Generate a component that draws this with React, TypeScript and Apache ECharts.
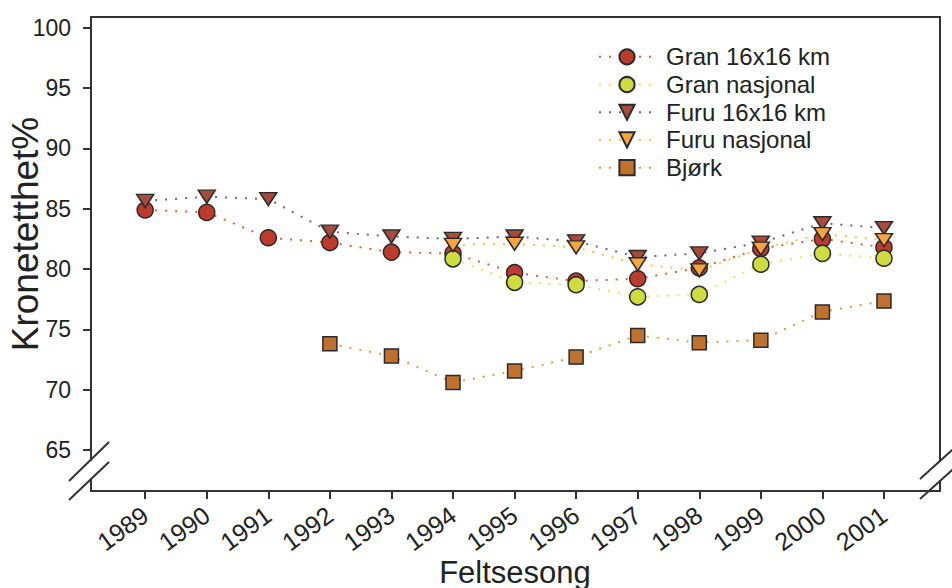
import React, { useEffect, useRef } from "react";
import * as echarts from "echarts";

const years = [1989, 1990, 1991, 1992, 1993, 1994, 1995, 1996, 1997, 1998, 1999, 2000, 2001];
const yTicks = [65, 70, 75, 80, 85, 90, 95, 100];

const granKm = [84.9, 84.7, 82.6, 82.2, 81.4, 81.3, 79.7, 79.0, 79.2, 80.1, 81.7, 82.5, 81.8];
const granNasjonal = [null, null, null, null, null, 80.85, 78.9, 78.7, 77.7, 77.9, 80.4, 81.3, 80.9];
const furuKm = [85.65, 86.0, 85.8, 83.1, 82.7, 82.5, 82.7, 82.3, 81.0, 81.3, 82.2, 83.8, 83.4];
const furuNasjonal = [null, null, null, null, null, 82.0, 82.1, 81.8, 80.4, 79.9, 81.7, 82.9, 82.4];
const bjork = [null, null, null, 73.8, 72.8, 70.6, 71.55, 72.7, 74.5, 73.9, 74.1, 76.45, 77.35];

const seriesNames = ["Gran 16x16 km", "Gran nasjonal", "Furu 16x16 km", "Furu nasjonal", "Bjørk"];
const xTitle = "Feltsesong";
const yTitle = "Kronetetthet%";

const TRI_DOWN = "path://M0,0L20,0L10,15Z";

function pairs(vals: (number | null)[]) {
  const out: [number, number][] = [];
  vals.forEach((v, i) => {
    if (v !== null) out.push([years[i], v]);
  });
  return out;
}

export default function App() {
  const ref = useRef<HTMLDivElement>(null);
  useEffect(() => {
    if (!ref.current) return;
    const chart = echarts.init(ref.current, null, { renderer: "svg" });
    const font = "Liberation Sans, Arial, Helvetica, sans-serif";
    const border = { borderColor: "#2a2a2a", borderWidth: 1.5 };
    const mk = (
      name: string,
      vals: (number | null)[],
      symbol: string,
      size: number | number[],
      fill: string,
      lineColor: string
    ) => ({
      name,
      type: "line",
      data: pairs(vals),
      symbol,
      symbolSize: size,
      showSymbol: true,
      itemStyle: { color: fill, ...border },
      lineStyle: { color: lineColor, width: 2, type: [2, 8] },
      emphasis: { disabled: true },
    });
    const option: any = {
      animation: false,
      backgroundColor: "#fff",
      textStyle: { fontFamily: font },
      grid: {
        left: 91,
        right: 12,
        top: 17,
        bottom: 97,
        show: true,
        borderColor: "#333",
        borderWidth: 2,
        containLabel: false,
        outerBoundsMode: "none",
      },
      legend: {
        orient: "vertical",
        left: 598,
        top: 43,
        padding: 0,
        itemWidth: 56,
        itemHeight: 19,
        itemGap: 0,
        textStyle: {
          fontSize: 24,
          color: "#222",
          fontFamily: font,
          lineHeight: 27.7,
          padding: [0, 0, 0, 6],
        },
        data: seriesNames,
      },
      xAxis: {
        type: "value",
        min: 1988.12,
        max: 2001.91,
        axisLine: { show: false },
        splitLine: { show: false },
        axisTick: {
          show: true,
          customValues: years,
          length: 8,
          lineStyle: { color: "#333", width: 2 },
        },
        axisLabel: {
          customValues: years,
          rotate: 36,
          fontSize: 25,
          color: "#222",
          margin: 21,
          fontFamily: font,
          formatter: (v: number) => String(v),
        },
      },
      yAxis: {
        type: "value",
        min: 61.6,
        max: 100.9,
        axisLine: { show: false },
        splitLine: { show: false },
        axisTick: {
          show: true,
          customValues: yTicks,
          length: 8,
          lineStyle: { color: "#333", width: 2 },
        },
        axisLabel: {
          customValues: yTicks,
          fontSize: 23,
          color: "#222",
          margin: 20,
          fontFamily: font,
        },
      },
      series: [
        mk(seriesNames[0], granKm, "circle", 16, "#bd3b2c", "#e0603a"),
        mk(seriesNames[1], granNasjonal, "circle", 16, "#cfdc3f", "#ece06a"),
        mk(seriesNames[2], furuKm, TRI_DOWN, [17, 13], "#a84a3c", "#6e6680"),
        mk(seriesNames[3], furuNasjonal, TRI_DOWN, [17, 13], "#f9a43c", "#f2c64a"),
        mk(seriesNames[4], bjork, "rect", 14, "#bf7230", "#e59a42"),
      ],
      graphic: [
        {
          type: "text",
          z: 50,
          x: 25,
          y: 234,
          rotation: Math.PI / 2,
          style: {
            text: yTitle,
            fontSize: 37,
            fontFamily: font,
            fill: "#222",
            align: "center",
            verticalAlign: "middle",
          },
        },
        {
          type: "text",
          z: 50,
          x: 515,
          y: 572,
          style: {
            text: xTitle,
            fontSize: 31,
            fontFamily: font,
            fill: "#222",
            align: "center",
            verticalAlign: "middle",
          },
        },
        { type: "rect", z: 100, shape: { x: 87, y: 461, width: 8, height: 17 }, style: { fill: "#fff" } },
        { type: "line", z: 101, shape: { x1: 69, y1: 481, x2: 109, y2: 442 }, style: { stroke: "#333", lineWidth: 2 } },
        { type: "line", z: 101, shape: { x1: 69, y1: 500, x2: 109, y2: 462 }, style: { stroke: "#333", lineWidth: 2 } },
        { type: "rect", z: 100, shape: { x: 936, y: 462, width: 8, height: 18 }, style: { fill: "#fff" } },
        { type: "line", z: 101, shape: { x1: 920, y1: 479, x2: 962, y2: 441 }, style: { stroke: "#333", lineWidth: 2 } },
        { type: "line", z: 101, shape: { x1: 920, y1: 499, x2: 962, y2: 461 }, style: { stroke: "#333", lineWidth: 2 } },
      ],
    };
    chart.setOption(option);
    return () => chart.dispose();
  }, []);
  return <div ref={ref} style={{ width: 952, height: 588, position: "absolute", left: 0, top: 0 }} />;
}
